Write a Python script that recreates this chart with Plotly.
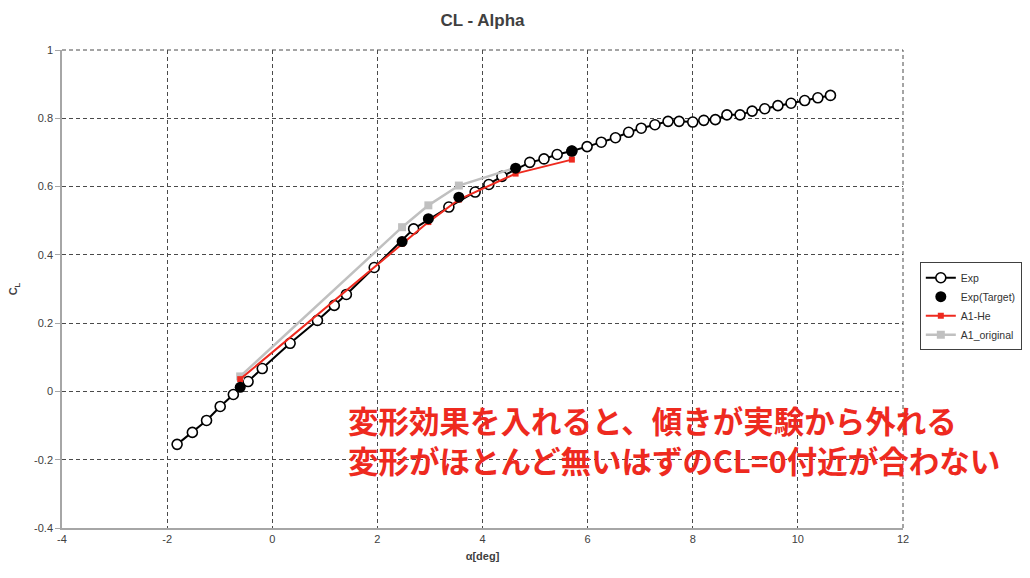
import plotly.graph_objects as go

# Exp data
exp_alpha = [-1.81, -1.52, -1.25, -0.99, -0.74, -0.46, -0.19, 0.34, 0.86, 1.18, 1.41, 1.94,
             2.69, 3.36, 3.86, 4.12, 4.37, 4.90, 5.17, 5.42, 5.70, 5.99, 6.26, 6.53, 6.78,
             7.02, 7.28, 7.53, 7.74, 8.00, 8.21, 8.43, 8.65, 8.90, 9.13, 9.37, 9.62, 9.87,
             10.13, 10.38, 10.62]
exp_cl = [-0.155, -0.120, -0.085, -0.044, -0.009, 0.029, 0.067, 0.141, 0.208, 0.252, 0.284, 0.363,
          0.476, 0.540, 0.584, 0.606, 0.630, 0.671, 0.681, 0.694, 0.704, 0.717, 0.730, 0.743, 0.759,
          0.771, 0.781, 0.791, 0.791, 0.789, 0.794, 0.796, 0.810, 0.810, 0.821, 0.828, 0.837, 0.844,
          0.852, 0.860, 0.867]

# Exp(Target)
tgt_alpha = [-0.61, 2.47, 2.97, 3.55, 4.63, 5.70]
tgt_cl = [0.012, 0.439, 0.506, 0.569, 0.654, 0.704]

# A1-He
he_alpha = [-0.61, 2.47, 2.97, 3.55, 4.63, 5.70]
he_cl = [0.036, 0.433, 0.496, 0.562, 0.638, 0.679]

# A1_original
orig_alpha = [-0.61, 2.47, 2.97, 3.55, 4.63]
orig_cl = [0.044, 0.481, 0.545, 0.603, 0.655]

x_ticks = [-4, -2, 0, 2, 4, 6, 8, 10, 12]
y_ticks = [-0.4, -0.2, 0, 0.2, 0.4, 0.6, 0.8, 1]

title = "CL - Alpha"
note_lines = ["変形効果を入れると、傾きが実験から外れる", "変形がほとんど無いはずのCL=0付近が合わない"]

GRID = "#4a4a4a"
DASH = "4px,3px"

fig = go.Figure()
fig.add_trace(go.Scatter(
    x=exp_alpha, y=exp_cl, mode="lines+markers", name="Exp",
    line=dict(color="black", width=2),
    marker=dict(symbol="circle", size=10, color="white", line=dict(color="black", width=1.6)),
))
fig.add_trace(go.Scatter(
    x=orig_alpha, y=orig_cl, mode="lines+markers", name="A1_original",
    line=dict(color="#c0c0c0", width=2.5),
    marker=dict(symbol="square", size=8, color="#c0c0c0"),
))
fig.add_trace(go.Scatter(
    x=he_alpha, y=he_cl, mode="lines+markers", name="A1-He",
    line=dict(color="#ee2a1f", width=2),
    marker=dict(symbol="square", size=6, color="#ee2a1f"),
))
fig.add_trace(go.Scatter(
    x=tgt_alpha, y=tgt_cl, mode="markers", name="Exp(Target)",
    marker=dict(symbol="circle", size=11, color="black"),
))

fig.update_layout(
    width=1030, height=578,
    margin=dict(l=62, r=127, t=50, b=50, autoexpand=False),
    paper_bgcolor="white", plot_bgcolor="white",
    font=dict(family="Liberation Sans, Arial, sans-serif", color="#404040", size=11),
    title=dict(text="<b>" + title + "</b>", x=(62 + 903) / 2 / 1030, xanchor="center",
               y=1 - 20 / 578, yanchor="middle",
               font=dict(size=17, color="#404040", family="Liberation Sans, Arial")),
    legend=dict(x=1.02, y=0.556, xanchor="left", yanchor="top",
                bordercolor="#404040", borderwidth=1,
                font=dict(size=10.5, color="#333333"),
                traceorder="normal", itemwidth=30,
                tracegroupgap=6),
    showlegend=True,
)
# legend order: Exp, Exp(Target), A1-He, A1_original
fig.data[0].legendrank = 1
fig.data[3].legendrank = 2
fig.data[2].legendrank = 3
fig.data[1].legendrank = 4

fig.update_xaxes(
    range=[-4, 12], tickvals=x_ticks, ticktext=[str(v) for v in x_ticks],
    showgrid=True, gridcolor=GRID, griddash=DASH, gridwidth=1,
    showline=True, linecolor="#a6a6a6", linewidth=1.5, zeroline=False,
    ticks="", tickfont=dict(size=11, color="#404040"),
    title=dict(text="<b>α[deg]</b>", font=dict(size=11, color="#404040"), standoff=8),
)
fig.update_yaxes(
    range=[-0.4, 1], tickvals=y_ticks, ticktext=[f"{v:g}" for v in y_ticks],
    showgrid=True, gridcolor=GRID, griddash=DASH, gridwidth=1,
    showline=True, linecolor="#a6a6a6", linewidth=1.5, zeroline=False,
    ticks="outside", ticklen=5, tickcolor="#a6a6a6",
    tickfont=dict(size=11, color="#404040"),
    title=dict(text="<b>C<sub>L</sub></b>", font=dict(size=11, color="#404040"), standoff=14),
)

# dashed frame lines at top and right edges (grid at range ends)
fig.add_shape(type="line", xref="paper", yref="paper", x0=0, x1=1, y0=1, y1=1,
              line=dict(color=GRID, width=1, dash=DASH), layer="below")
fig.add_shape(type="line", xref="paper", yref="paper", x0=1, x1=1, y0=0, y1=1,
              line=dict(color=GRID, width=1, dash=DASH), layer="below")

fig.add_annotation(
    xref="paper", yref="paper",
    x=(346 - 62) / 841, y=(528 - 440) / 478,
    xanchor="left", yanchor="middle", align="left", showarrow=False,
    text="<br>".join("<b>" + s + "</b>" for s in note_lines),
    font=dict(family="Noto Sans CJK JP", size=30.5, color="#ee2a1f"),
)

fig.write_html("out.html")
